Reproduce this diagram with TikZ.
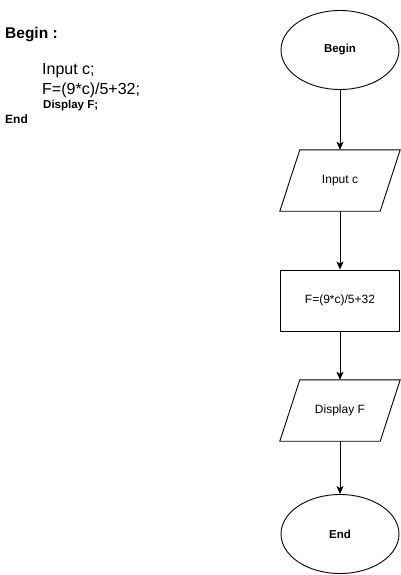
\documentclass[tikz,border=0pt]{standalone}
\usepackage{fontspec}
\setmainfont{Liberation Sans}
\usetikzlibrary{shapes.geometric,arrows.meta}

\tikzset{
  outline/.style={draw=black, line width=0.9pt},
  term/.style={outline, ellipse, minimum width=118pt, minimum height=79pt, inner sep=0pt,
    font=\bfseries\fontsize{11.5}{13}\selectfont},
  proc/.style={outline, rectangle, minimum width=119pt, minimum height=61pt, inner sep=0pt,
    font=\fontsize{12}{14}\selectfont},
  iobody/.style={rectangle, minimum width=100pt, minimum height=61pt, inner sep=0pt,
    font=\fontsize{12}{14}\selectfont},
  flow/.style={draw=black, line width=0.9pt, -{Stealth[length=8pt,width=7pt,inset=2pt]}},
  code/.style={anchor=base west, inner sep=0pt},
}

% slanted input/output box drawn around a named body node
\newcommand{\iobox}[1]{%
  \draw[outline] ([xshift=10pt]#1.north west) -- ([xshift=10pt]#1.north east)
    -- ([xshift=-10pt]#1.south east) -- ([xshift=-10pt]#1.south west) -- cycle;}

\begin{document}
\begin{tikzpicture}[x=1pt, y=-1pt]
  \useasboundingbox (0,0) rectangle (401,575);

  % pseudo-code listing
  \node[code, font=\bfseries\fontsize{15.5}{18}\selectfont] (lb) at (5,38.3) {Begin :};
  \node[code, font=\fontsize{16}{19}\selectfont] (l1) at (42,75) {Input c;};
  \node[code, font=\fontsize{16}{19}\selectfont] (l2) at (42,94.5) {F=(9*c)/5+32;};
  \node[code, font=\bfseries\fontsize{11.5}{13}\selectfont] (l3) at (43,109) {Display F;};
  \node[code, font=\bfseries\fontsize{12}{14}\selectfont] (le) at (5,123.7) {End};

  % flowchart
  \node[term] (begin) at (340,50) {Begin};
  \node[iobody] (in) at (340,180.5) {Input c};
  \iobox{in}
  \node[proc] (calc) at (340,300.5) {F=(9*c)/5+32};
  \node[iobody] (out) at (340,410.5) {Display F};
  \iobox{out}
  \node[term] (end) at (340,534) {End};

  \draw[flow] (begin.south) -- (in.north);
  \draw[flow] (in.south) -- (calc.north);
  \draw[flow] (calc.south) -- (out.north);
  \draw[flow] (out.south) -- (end.north);
\end{tikzpicture}
\end{document}
